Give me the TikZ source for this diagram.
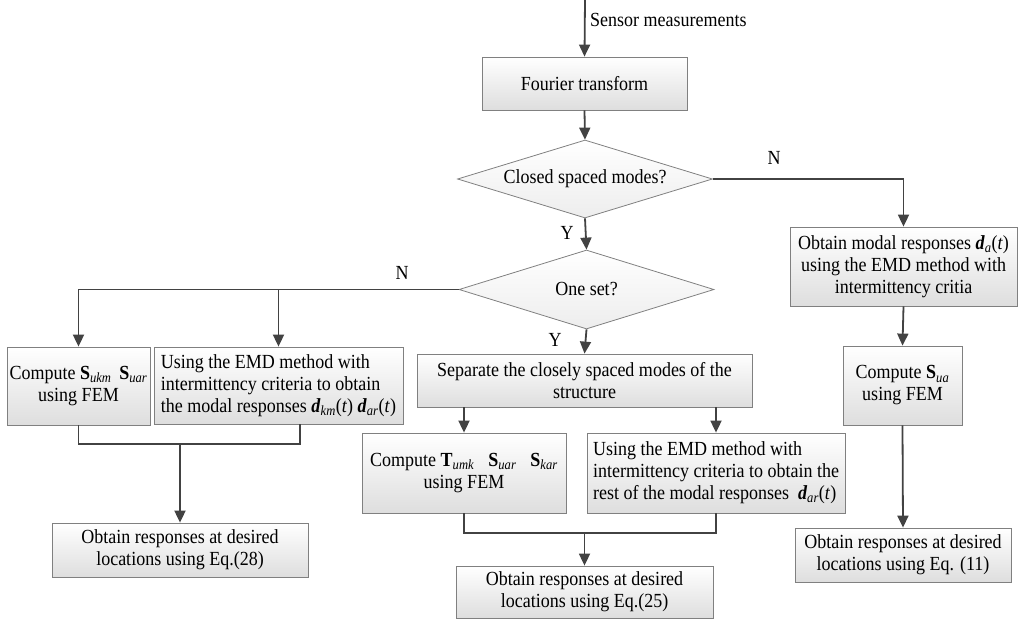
\documentclass[tikz,border=0pt]{standalone}
\usepackage{fontspec}
\setmainfont{Liberation Serif}[FakeStretch=0.9]
\usetikzlibrary{shapes.geometric,arrows.meta,calc}
\newcommand{\fs}{\fontsize{20}{22}\selectfont}
\newcommand{\vbS}[1]{\textbf{S}\textsubscript{\textit{#1}}}
\newcommand{\vbT}[1]{\textbf{T}\textsubscript{\textit{#1}}}
\newcommand{\vd}[1]{\textbf{\textit{d}}\textsubscript{\textit{#1}}(\textit{t})}
\begin{document}
\begin{tikzpicture}[x=1pt,y=-1pt,
  box/.style={draw=black!50, line width=0.8pt, top color=white, bottom color=black!13,
    inner sep=2pt, align=center, font=\fs},
  dia/.style={diamond, draw=black!50, line width=0.8pt, top color=white, bottom color=black!7,
    inner sep=0pt, aspect=3.27, font=\fs},
  conn/.style={draw=black!74, line width=1.8pt},
  arr/.style={conn, -{Triangle[length=12pt,width=11pt]}},
  lbl/.style={font=\fs, inner sep=0pt}]
\useasboundingbox (0,0) rectangle (1021,622);

% nodes
\node[box, minimum width=205pt, minimum height=53pt] (fourier) at (584.5,83.5) {Fourier transform};
\node[dia, minimum width=255pt, minimum height=78pt] (d1) at (585,179) {Closed spaced modes?};
\node[dia, minimum width=255pt, minimum height=79pt] (d2) at (586.5,289.5) {One set?};
\node[box, minimum width=335pt, minimum height=53pt] (sep) at (584.5,380.5)
  {Separate the closely spaced modes of the\\structure};
\node[box, minimum width=143pt, minimum height=78pt] (lc) at (78.5,386)
  {Compute \vbS{ukm}\ \,\vbS{uar}\\using FEM};
\node[box, minimum width=249pt, minimum height=77pt, align=left] (le) at (278.5,385.5)
  {Using the EMD method with\\intermittency criteria to obtain\\the modal responses \vd{km} \vd{ar}};
\node[box, minimum width=256pt, minimum height=54pt] (o28) at (180,550)
  {Obtain responses at desired\\locations using Eq.(28)};
\node[box, minimum width=204pt, minimum height=80pt] (mc) at (464,473)
  {Compute \vbT{umk}\hspace{0.7em}\vbS{uar}\hspace{0.7em}\vbS{kar}\\using FEM};
\node[box, minimum width=258pt, minimum height=80pt, align=left] (me) at (716,473)
  {Using the EMD method with\\intermittency criteria to obtain the\\rest of the modal responses \ \vd{ar}};
\node[box, minimum width=257pt, minimum height=52pt] (o25) at (584.5,592)
  {Obtain responses at desired\\locations using Eq.(25)};
\node[box, minimum width=227pt, minimum height=79pt] (rm) at (903.5,266.5)
  {Obtain modal responses \vd{a}\\using the EMD method with\\intermittency critia};
\node[box, minimum width=119pt, minimum height=79pt] (rc) at (902.5,385.5)
  {Compute \vbS{ua}\\using FEM};
\node[box, minimum width=216pt, minimum height=54pt] (o11) at (903,555)
  {Obtain responses at desired\\locations using Eq. (11)};

% helper coordinates
\coordinate (in) at (585,0);
\coordinate (lebr) at ($(le.south)+(21.5,0)$);
\coordinate (lj) at (o28.north |- 0,444);
\coordinate (mj) at (o25.north |- 0,533);

% labels
\node[lbl, anchor=west] (sm) at (590,20) {Sensor measurements};
\node[lbl] (n1) at (774,158) {N};
\node[lbl] (y1) at (567,233) {Y};
\node[lbl] (n2) at (402,273) {N};
\node[lbl] (y2) at (555,340) {Y};

% connectors
\draw[arr] (in) -- (fourier.north);
\draw[arr] (fourier.south) -- (d1.north);
\draw[arr] (d1.east) -| (rm.north);
\draw[arr] (d1.south) -- (d2.north);
\draw[arr] (d2.west) -| (lc.north);
\draw[arr] (le.north |- d2.west) -- (le.north);
\draw[arr] (d2.south) -- (sep.north);
\draw[arr] (sep.south -| mc.north) -- (mc.north);
\draw[arr] (sep.south -| me.north) -- (me.north);
\draw[conn] (lc.south) |- (lj) -| (lebr);
\draw[arr] (lj) -- (o28.north);
\draw[conn] (mc.south) |- (mj) -| (me.south);
\draw[arr] (mj) -- (o25.north);
\draw[arr] (rm.south) -- (rc.north);
\draw[arr] (rc.south) -- (o11.north);
\end{tikzpicture}
\end{document}
